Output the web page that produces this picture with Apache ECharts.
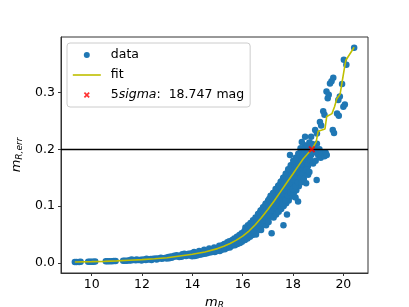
<!DOCTYPE html>
<html><head><meta charset="utf-8">
<script src="https://cdn.jsdelivr.net/npm/echarts@6/dist/echarts.min.js"></script>
<style>html,body{margin:0;padding:0;background:#fff}#c{width:409px;height:307px}</style>
</head><body><div id="c"></div>
<script>
// scatter points: [m_R, m_R,err]
const dataPoints = [
[9.33,.0015],[9.40,.0015],[9.50,.0016],[9.56,.0017],[9.86,.0018],[9.93,.0019],[10.00,.002],[10.07,.002],[10.14,.0021],
[10.56,.0025],[10.63,.0026],[10.71,.0026],[10.80,.0028],[10.88,.003],[10.95,.003],[11.25,.0035],[11.32,.0036],[11.40,.0037],
[11.5,.0045],[11.55,.004],[11.58,.006],[11.65,.005],[11.75,.0045],[11.78,.006],[11.85,.005],[11.95,.0055],[11.98,.004],
[12.05,.006],[12.15,.005],[12.18,.007],[12.25,.006],[12.35,.0065],[12.38,.005],[12.45,.007],[12.55,.0075],[12.58,.006],
[12.65,.0075],[12.75,.009],[12.78,.007],[12.85,.008],[12.95,.009],[12.98,.0075],
[13.05,.010],[13.08,.008],[13.15,.011],[13.18,.009],[13.25,.0105],[13.28,.0125],[13.35,.011],[13.38,.0135],[13.45,.012],
[13.48,.010],[13.55,.013],[13.57,.0105],[13.6,.015],[13.65,.013],[13.68,.016],[13.75,.012],[13.78,.0145],[13.85,.016],
[13.88,.013],[13.95,.014],[13.97,.017],[13.99,.0115],
[14.05,.015],[14.07,.019],[14.09,.012],[14.15,.016],[14.18,.013],[14.25,.017],[14.27,.021],[14.29,.014],[14.35,.018],
[14.38,.015],[14.45,.019],[14.47,.023],[14.49,.016],[14.55,.020],[14.58,.017],[14.65,.021],[14.67,.025],[14.69,.018],
[14.75,.022],[14.78,.019],[14.85,.023],[14.87,.027],[14.89,.019],[14.95,.024],[14.98,.021],
[15.05,.025],[15.07,.030],[15.09,.021],[15.15,.027],[15.17,.023],[15.19,.031],[15.25,.028],[15.27,.033],[15.29,.024],
[15.35,.030],[15.37,.026],[15.39,.036],[15.45,.032],[15.47,.038],[15.49,.027],[15.55,.035],[15.57,.030],[15.59,.040],
[15.65,.037],[15.67,.043],[15.69,.031],[15.75,.039],[15.77,.046],[15.79,.033],[15.85,.042],[15.87,.049],[15.89,.035],
[15.95,.045],[15.96,.052],[15.97,.037],[15.99,.041],
[16.05,.048],[16.07,.056],[16.09,.040],[16.11,.062],[16.15,.051],[16.17,.059],[16.19,.043],[16.21,.066],
[16.25,.054],[16.27,.063],[16.29,.046],[16.31,.070],[16.35,.058],[16.37,.067],[16.39,.049],[16.41,.075],
[16.45,.062],[16.47,.072],[16.49,.052],[16.51,.080],[16.55,.068],[16.57,.078],[16.59,.057],[16.61,.086],[16.53,.050],
[16.02,.052],[16.12,.055],[16.22,.060],[16.32,.063],[16.42,.068],[16.13,.047],[16.23,.050],[16.33,.054],[16.43,.057],
[16.65,.072],[16.67,.083],[16.69,.061],[16.71,.092],[16.75,.078],[16.77,.089],[16.79,.066],[16.81,.098],[16.73,.058],
[16.85,.083],[16.87,.095],[16.89,.070],[16.91,.104],[16.95,.090],[16.97,.101],[16.99,.075],[17.01,.110],[16.93,.066],
[16.52,.063],[16.56,.073],[16.62,.066],[16.64,.077],[16.68,.088],[16.72,.070],[16.74,.083],[16.78,.094],[16.82,.075],
[16.84,.088],[16.88,.100],[16.92,.080],[16.94,.094],[16.98,.106],
[17.05,.095],[17.07,.107],[17.09,.082],[17.11,.118],[17.03,.072],[17.15,.100],[17.17,.112],[17.19,.086],[17.21,.123],[17.15,.052],
[17.25,.105],[17.27,.118],[17.29,.090],[17.31,.130],[17.23,.080],[17.35,.112],[17.37,.124],[17.39,.097],[17.41,.136],[17.33,.085],
[17.45,.118],[17.47,.131],[17.49,.102],[17.51,.143],[17.43,.090],[17.55,.125],[17.57,.138],[17.59,.108],[17.61,.150],[17.53,.095],
[17.02,.085],[17.04,.100],[17.06,.113],[17.12,.092],[17.14,.106],[17.16,.118],[17.22,.097],[17.24,.111],[17.26,.124],
[17.32,.104],[17.34,.118],[17.36,.130],[17.42,.110],[17.44,.124],[17.46,.137],[17.52,.116],[17.54,.131],[17.56,.144],
[17.65,.131],[17.67,.145],[17.69,.114],[17.71,.157],[17.63,.100],[17.62,.066],
[17.75,.137],[17.77,.150],[17.79,.120],[17.81,.165],[17.73,.105],[17.76,.085],
[17.85,.143],[17.87,.157],[17.89,.126],[17.91,.172],[17.83,.110],[17.88,.190],
[17.95,.150],[17.97,.163],[17.99,.132],[18.01,.180],[17.93,.117],
[17.62,.122],[17.64,.138],[17.66,.151],[17.72,.128],[17.74,.144],[17.76,.158],[17.82,.134],[17.84,.150],[17.86,.165],
[17.92,.140],[17.94,.156],[17.96,.172],[17.6,.105],[17.7,.110],[17.8,.118],[17.9,.124],
[18.05,.156],[18.07,.170],[18.09,.140],[18.11,.185],[18.03,.123],[18.15,.162],[18.17,.176],[18.19,.146],[18.21,.192],[18.13,.128],
[18.25,.168],[18.27,.182],[18.29,.152],[18.31,.198],[18.23,.135],[18.2,.108],[18.1,.115],
[18.02,.147],[18.04,.163],[18.06,.178],[18.12,.153],[18.14,.169],[18.16,.184],[18.22,.159],[18.24,.175],[18.26,.190],
[18.32,.165],[18.34,.181],[18.36,.196],[18.42,.172],[18.44,.187],[18.46,.207],[18.0,.130],[18.1,.135],[18.2,.142],[18.3,.150],
[18.35,.174],[18.37,.188],[18.39,.158],[18.3,.202],[18.35,.213],[18.33,.142],
[18.45,.180],[18.47,.194],[18.49,.164],[18.48,.222],[18.43,.148],[18.4,.190],[18.45,.200],
[18.55,.186],[18.57,.205],[18.59,.170],[18.52,.140],[18.55,.165],
[18.52,.178],[18.54,.193],[18.62,.185],[18.64,.202],[18.72,.190],[18.74,.210],[18.78,.195],[18.6,.155],
[18.6,.195],[18.65,.212],[18.7,.200],[18.72,.222],[18.65,.160],[18.6,.175],[18.7,.180],
[18.8,.205],[18.85,.195],[18.9,.200],[18.95,.210],[18.8,.175],[18.9,.180],[18.94,.146],
[19.0,.190],[19.05,.200],[19.1,.185],[19.15,.195],[19.25,.188],[19.3,.194],[19.34,.190],
[18.88,.234],[18.95,.228],[19.07,.248],[19.12,.242],
[19.2,.267],[19.25,.261],[19.33,.302],[19.42,.296],[19.38,.290],[19.47,.316],[19.53,.320],[19.6,.326],
[19.58,.234],[19.63,.229],[19.75,.263],[19.82,.259],[19.8,.287],[19.86,.293],[19.95,.315],
[20.0,.275],[20.06,.279],[20.02,.358],[20.12,.349],[20.43,.379]
];
// fit curve
const fitMag = [9.33,10,10.5,11,11.5,12,12.5,13,13.5,14,14.5,15,15.25,15.5,15.75,16,16.25,16.5,16.75,17,17.25,17.5,17.75,18,18.2,18.4,18.6,18.75,18.92,19.0,19.27,19.34,19.55,19.65,19.74,19.87,19.94,20.05,20.1,20.43];
const fitErr = [.0015,.002,.0025,.0033,.0045,.0055,.007,.009,.012,.015,.019,.025,.029,.034,.040,.047,.056,.067,.080,.094,.109,.125,.141,.157,.170,.183,.193,.2,.213,.232,.236,.258,.263,.275,.289,.297,.316,.345,.357,.38];
// 5 sigma limit
const limitMag = 18.747;
const limitErr = 0.2;
// axes
const xTicks = [10,12,14,16,18,20];
const yTicks = [0.0,0.1,0.2,0.3];
const xRange = [8.78, 20.98];
const yRange = [-0.018, 0.398];

const FONT = 'DejaVu Sans';
const xPath = 'path://M2,0 L5,3 L8,0 L10,2 L7,5 L10,8 L8,10 L5,7 L2,10 L0,8 L3,5 L0,2 Z';
const spine = '#333';

const chart = echarts.init(document.getElementById('c'), null, {renderer:'canvas'});
chart.setOption({
  animation: false,
  backgroundColor: '#fff',
  textStyle: {fontFamily: FONT},
  grid: {left:61, top:37, right:41, bottom:34, outerBoundsMode:'none', containLabel:false,
         show:true, borderColor:spine, borderWidth:1, backgroundColor:'transparent'},
  xAxis: {
    type:'value', min:xRange[0], max:xRange[1],
    axisLine:{show:true, onZero:false, lineStyle:{color:spine, width:1}},
    axisTick:{show:true, inside:false, length:3, customValues:xTicks, lineStyle:{color:spine}},
    axisLabel:{customValues:xTicks, fontFamily:FONT, fontSize:12.5, color:'#000', margin:5},
    splitLine:{show:false},
    name:'{m|m}{s|R}', nameLocation:'middle', nameGap:18,
    nameTextStyle:{rich:{
      m:{fontFamily:FONT, fontStyle:'italic', fontSize:13, color:'#000'},
      s:{fontFamily:FONT, fontStyle:'italic', fontSize:9, color:'#000', padding:[6,0,0,0]}
    }}
  },
  yAxis: {
    type:'value', min:yRange[0], max:yRange[1],
    axisLine:{show:true, onZero:false, lineStyle:{color:spine, width:1}},
    axisTick:{show:true, inside:false, length:3, customValues:yTicks, lineStyle:{color:spine}},
    axisLabel:{customValues:yTicks, fontFamily:FONT, fontSize:12.5, color:'#000', margin:6, formatter:v=>v.toFixed(1)},
    splitLine:{show:false},
    name:'{m|m}{s|R,err}', nameLocation:'middle', nameGap:25, nameRotate:90,
    nameTextStyle:{rich:{
      m:{fontFamily:FONT, fontStyle:'italic', fontSize:13, color:'#000'},
      s:{fontFamily:FONT, fontStyle:'italic', fontSize:9, color:'#000', padding:[6,0,0,0]}
    }}
  },
  legend: {
    orient:'vertical', left:67, top:43, padding:[5,6,5,5], itemGap:6,
    itemWidth:28, itemHeight:6,
    backgroundColor:'rgba(255,255,255,0.8)', borderColor:'#cccccc', borderWidth:1, borderRadius:3,
    textStyle:{fontFamily:FONT, fontSize:12.5, color:'#000', lineHeight:14, padding:[0,0,0,5],
      rich:{
        n:{fontFamily:FONT, fontSize:12.5, color:'#000'},
        i:{fontFamily:FONT, fontSize:12.5, fontStyle:'italic', color:'#000'}
      }},
    formatter: name => name === '5sigma' ? '{n|5}{i|sigma}{n|:  ' + limitMag.toFixed(3) + ' mag}' : name,
    data:[{name:'data', icon:'circle'},
          {name:'fit', itemStyle:{opacity:0}, lineStyle:{color:'#bfbf00', width:1.6}},
          {name:'5sigma', icon:xPath}]
  },
  series: [
    {name:'data', type:'scatter', data:dataPoints, symbol:'circle', symbolSize:6.5,
     itemStyle:{color:'#1f77b4', opacity:1}, z:2},
    {name:'fit', type:'line', data:fitMag.map((m,i)=>[m, fitErr[i]]), symbol:'none', showSymbol:false,
     lineStyle:{color:'#bfbf00', width:1.6}, itemStyle:{color:'#bfbf00'}, z:3},
    {name:'hline', type:'scatter', data:[], z:4,
     markLine:{silent:true, symbol:'none', animation:false, label:{show:false},
       lineStyle:{color:'#000', width:1.4, type:'solid'},
       data:[{yAxis:limitErr}]}},
    {name:'5sigma', type:'scatter', data:[[limitMag, limitErr]], symbol:xPath, symbolSize:7,
     itemStyle:{color:'#ff0000'}, z:5}
  ]
});
</script></body></html>
